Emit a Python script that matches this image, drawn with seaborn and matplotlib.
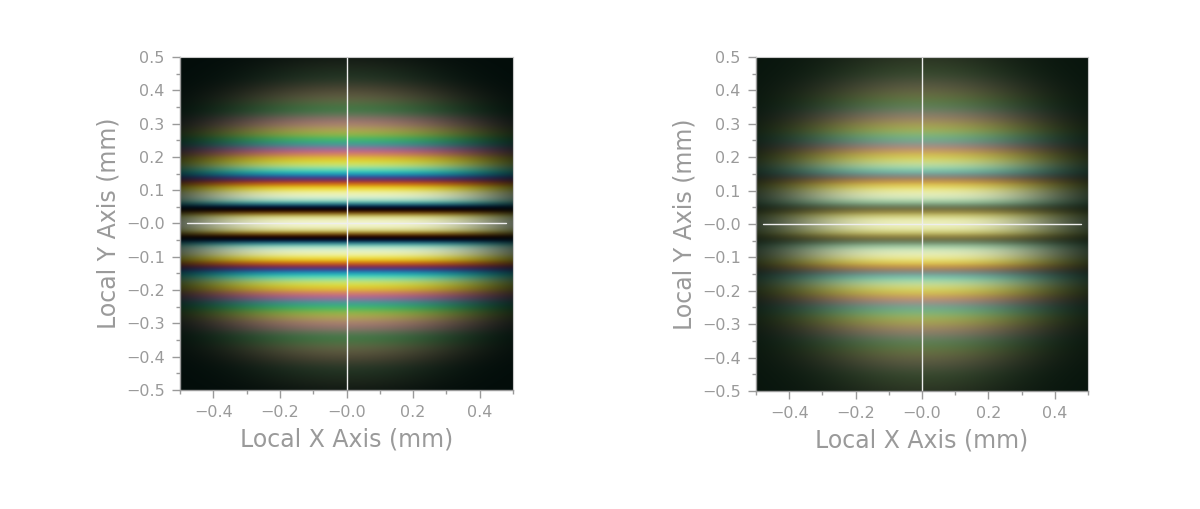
import numpy as np
import matplotlib
matplotlib.use("Agg")
import matplotlib.pyplot as plt
import seaborn as sns
from matplotlib.ticker import MultipleLocator


# spectrum samples (nm) and rough RGB response of the camera for each one
wavelengths = [430, 455, 480, 505, 530, 555, 580, 605, 630, 655, 680]
resp_r = [0.10, 0.03, 0.0, 0.0, 0.05, 0.35, 0.80, 1.00, 0.90, 0.60, 0.30]
resp_g = [0.0, 0.15, 0.50, 0.85, 1.00, 1.00, 0.85, 0.50, 0.15, 0.03, 0.0]
resp_b = [0.45, 0.70, 0.70, 0.45, 0.20, 0.05, 0.0, 0.0, 0.0, 0.0, 0.0]

# source spectrum weights for each panel
spec_left = [0.5, 0.7, 0.85, 0.95, 1.0, 1.0, 1.0, 0.95, 0.9, 0.8, 0.6]
spec_right = [0.15, 0.3, 0.55, 0.85, 1.0, 1.0, 0.95, 0.85, 0.7, 0.5, 0.3]

# fringe settings per panel: period at 555 nm (mm), visibility, envelope radii (mm), gain
fringe_period = [0.090, 0.094]
visibility = [1.0, 0.55]
env_rx = [0.50, 0.42]
env_ry = [0.40, 0.42]
env_pow = [2.0, 1.6]
gain = [1.9, 2.2]
white_bal = [(0.95, 1.0, 0.58), (0.95, 1.0, 0.55)]
backdrop = [(0.01, 0.05, 0.04), (0.03, 0.08, 0.05)]

x_ticks = [-0.4, -0.2, 0.0, 0.2, 0.4]
x_tick_labels = ["\u22120.4", "\u22120.2", "\u22120.0", "0.2", "0.4"]
y_ticks = [0.5, 0.4, 0.3, 0.2, 0.1, 0.0, -0.1, -0.2, -0.3, -0.4, -0.5]
y_tick_labels = ["0.5", "0.4", "0.3", "0.2", "0.1", "\u22120.0", "\u22120.1",
                 "\u22120.2", "\u22120.3", "\u22120.4", "\u22120.5"]

grid_n = 400
gray = "#9a9a9a"


def fringe_image(k):
    xs = np.linspace(-0.5, 0.5, grid_n)
    X, Y = np.meshgrid(xs, xs)
    env = np.exp(-((X / env_rx[k]) ** 2 + (Y / env_ry[k]) ** 2) ** env_pow[k])
    spec = np.array([spec_left, spec_right][k])
    resp = np.array([resp_r, resp_g, resp_b]) * spec
    rgb = np.zeros((grid_n, grid_n, 3))
    for i, lam in enumerate(wavelengths):
        p = fringe_period[k] * lam / 555.0
        band = 0.5 * (1 + visibility[k] * np.cos(2 * np.pi * Y / p))
        for c in range(3):
            rgb[..., c] += resp[c, i] * band
    rgb /= resp.sum(axis=1)
    # camera saturation first, then the aperture fall-off
    rgb = np.tanh(rgb * np.array(white_bal[k]) * gain[k]) * env[..., None]
    rgb += np.array(backdrop[k]) * (1 - env[..., None])
    return np.clip(rgb, 0, 1)


sns.set_theme(style="white")
plt.rcParams['font.family'] = ['DejaVu Sans']

fig = plt.figure(figsize=(12, 5.09), dpi=100)
positions = [[0.150, 0.234, 0.2775, 0.654], [0.630, 0.232, 0.2767, 0.656]]

for k in range(2):
    ax = fig.add_axes(positions[k])
    ax.imshow(fringe_image(k), extent=[-0.5, 0.5, -0.5, 0.5], origin="lower",
              interpolation="bilinear", aspect="auto")
    ax.axvline(0, color="#eeeeee", lw=1.0)
    ax.plot([-0.48, 0.48], [0, 0], color="#eeeeee", lw=1.0)
    ax.set_xlim(-0.5, 0.5)
    ax.set_ylim(-0.5, 0.5)
    ax.set_xticks(x_ticks)
    ax.set_xticklabels(x_tick_labels)
    ax.set_yticks(y_ticks)
    ax.set_yticklabels(y_tick_labels)
    ax.xaxis.set_minor_locator(MultipleLocator(0.1))
    ax.yaxis.set_minor_locator(MultipleLocator(0.05))
    ax.tick_params(which="major", direction="out", length=6, width=1, color=gray,
                   labelcolor=gray, labelsize=11.5, left=True, bottom=True, pad=5)
    ax.tick_params(which="minor", direction="out", length=3, width=1, color=gray,
                   left=True, bottom=True)
    for side in ["left", "bottom"]:
        ax.spines[side].set_color(gray)
        ax.spines[side].set_linewidth(1.0)
    for side in ["top", "right"]:
        ax.spines[side].set_color("#c8c8c8")
        ax.spines[side].set_linewidth(0.8)
    ax.set_xlabel("Local X Axis (mm)", color=gray, fontsize=17, labelpad=5)
    ax.set_ylabel("Local Y Axis (mm)", color=gray, fontsize=17, labelpad=4)

fig.savefig("out.png", dpi=100, facecolor="white")
